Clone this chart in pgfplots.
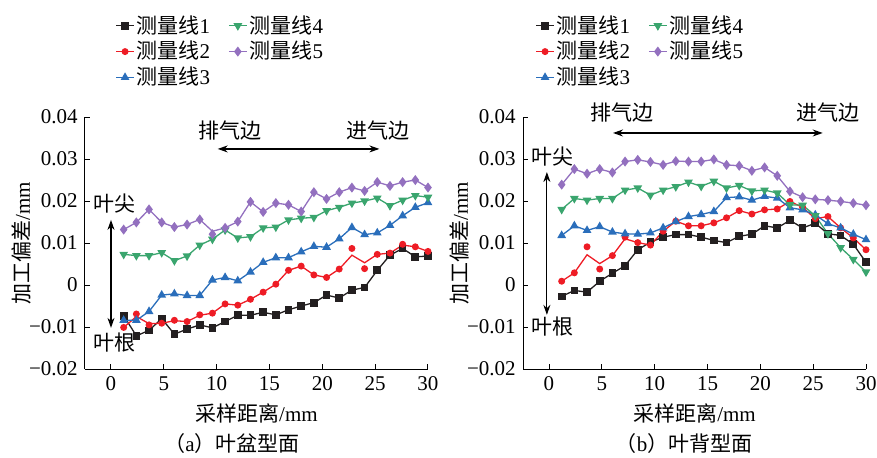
\documentclass[border=0pt]{standalone}
\usepackage{pgfplots}
\pgfplotsset{compat=1.18}
\usepackage{pgfplotstable}
\usepackage{fontspec}
\setmainfont{Liberation Serif}
\newfontfamily\cjk{Noto Sans CJK SC}
\usetikzlibrary{arrows.meta}
\definecolor{c1}{HTML}{231F20}
\definecolor{c2}{HTML}{EE1C25}
\definecolor{c3}{HTML}{2A6EBB}
\definecolor{c4}{HTML}{3AA56E}
\definecolor{c5}{HTML}{9370BF}

\pgfplotstableread{
x s1 s2 s2l s3 s4 s5 s5l
1.2 -0.0073 -0.0101 -0.0101 -0.0084 0.0073 0.0132 0.0132
2.4 -0.0121 -0.0069 -0.0075 -0.0084 0.0070 0.0149 0.0149
3.6 -0.0108 -0.0095 -0.0092 -0.0063 0.0070 0.0180 0.0180
4.8 -0.0080 -0.0091 -0.0091 -0.0024 0.0077 0.0149 0.0149
6.0 -0.0117 -0.0084 -0.0085 -0.0021 0.0058 0.0138 0.0138
7.2 -0.0105 -0.0087 -0.0087 -0.0025 0.0069 0.0144 0.0144
8.4 -0.0095 -0.0071 -0.0072 -0.0025 0.0095 0.0156 0.0156
9.6 -0.0102 -0.0067 -0.0067 0.0012 0.0109 0.0121 0.0128
10.8 -0.0087 -0.0045 -0.0045 0.0018 0.0131 0.0136 0.0136
12.0 -0.0072 -0.0048 -0.0048 0.0010 0.0112 0.0151 0.0151
13.2 -0.0072 -0.0034 -0.0034 0.0031 0.0115 0.0198 0.0198
14.4 -0.0065 -0.0017 -0.0017 0.0054 0.0136 0.0174 0.0174
15.6 -0.0071 0.0002 0.0002 0.0065 0.0138 0.0195 0.0195
16.8 -0.0059 0.0035 0.0035 0.0065 0.0155 0.0191 0.0191
18.0 -0.0050 0.0045 0.0045 0.0079 0.0159 0.0175 0.0175
19.2 -0.0042 0.0024 0.0024 0.0092 0.0161 0.0221 0.0221
20.4 -0.0024 0.0018 0.0018 0.0090 0.0177 0.0205 0.0205
21.6 -0.0031 0.0038 0.0038 0.0110 0.0185 0.0221 0.0221
22.8 -0.0012 0.0087 0.0071 0.0137 0.0195 0.0232 0.0232
24.0 -0.0006 0.0039 0.0053 0.0120 0.0200 0.0224 0.0224
25.2 0.0035 0.0073 0.0073 0.0124 0.0207 0.0245 0.0245
26.4 0.0071 0.0076 0.0076 0.0142 0.0189 0.0236 0.0236
27.6 0.0087 0.0097 0.0095 0.0165 0.0202 0.0245 0.0245
28.8 0.0067 0.0091 0.0091 0.0185 0.0213 0.0250 0.0250
30.0 0.0069 0.0080 0.0080 0.0196 0.0209 0.0232 0.0232
}\tabL

\pgfplotstableread{
x s1 s2 s2l s3 s4 s5
1.2 -0.0027 0.0009 0.0009 0.0118 0.0180 0.0239
2.4 -0.0013 0.0029 0.0029 0.0141 0.0206 0.0276
3.6 -0.0017 0.0091 0.0072 0.0130 0.0202 0.0265
4.8 0.0009 0.0038 0.0051 0.0139 0.0206 0.0276
6.0 0.0028 0.0070 0.0070 0.0126 0.0206 0.0268
7.2 0.0046 0.0114 0.0110 0.0122 0.0226 0.0294
8.4 0.0084 0.0101 0.0101 0.0121 0.0231 0.0298
9.6 0.0102 0.0095 0.0095 0.0124 0.0214 0.0293
10.8 0.0114 0.0128 0.0128 0.0136 0.0226 0.0286
12.0 0.0120 0.0152 0.0152 0.0151 0.0234 0.0295
13.2 0.0120 0.0141 0.0141 0.0163 0.0245 0.0294
14.4 0.0114 0.0141 0.0141 0.0168 0.0235 0.0294
15.6 0.0106 0.0148 0.0148 0.0175 0.0247 0.0299
16.8 0.0101 0.0160 0.0160 0.0208 0.0231 0.0286
18.0 0.0116 0.0177 0.0177 0.0210 0.0237 0.0284
19.2 0.0121 0.0169 0.0169 0.0202 0.0224 0.0272
20.4 0.0141 0.0179 0.0179 0.0211 0.0226 0.0280
21.6 0.0136 0.0181 0.0181 0.0207 0.0219 0.0260
22.8 0.0154 0.0199 0.0199 0.0184 0.0191 0.0223
24.0 0.0136 0.0185 0.0185 0.0179 0.0190 0.0209
25.2 0.0147 0.0158 0.0158 0.0167 0.0165 0.0204
26.4 0.0122 0.0163 0.0163 0.0146 0.0122 0.0202
27.6 0.0118 0.0136 0.0136 0.0136 0.0089 0.0199
28.8 0.0097 0.0112 0.0112 0.0121 0.0061 0.0195
30.0 0.0054 0.0084 0.0084 0.0108 0.0031 0.0190
}\tabR

\pgfplotsset{
  s1/.style={color=c1, line width=0.65pt, mark=square*, mark size=1.6pt},
  s2/.style={color=c2, line width=0.65pt, mark=*, mark size=1.4pt},
  s3/.style={color=c3, line width=0.65pt, mark=triangle*, mark size=1.9pt},
  s4/.style={color=c4, line width=0.65pt, mark=triangle*, mark size=1.9pt, mark options={rotate=180}},
  s5/.style={color=c5, line width=0.65pt, mark=diamond*, mark size=2pt},
  myaxis/.style={
    scale only axis, width=171.5pt, height=126pt,
    xmin=-2.46, xmax=30, ymin=-0.02, ymax=0.04,
    axis x line*=bottom, axis y line*=left,
    scaled y ticks=false, scaled x ticks=false,
    xtick={0,5,10,15,20,25,30}, xticklabels={0,5,10,15,20,25,30},
    ytick={-0.02,-0.01,0,0.01,0.02,0.03,0.04},
    yticklabels={−0.02,−0.01,0,0.01,0.02,0.03,0.04},
    tick align=inside, major tick length=2.5pt,
    axis line style={line width=0.5pt, black},
    every tick/.style={black, line width=0.5pt},
    clip=false,
    xlabel={{\cjk 采样距离}/mm},
    ylabel={{\cjk 加工偏差}/mm},
    xlabel style={at={(axis description cs:0.5,-0.175)}, anchor=center},
    ylabel style={at={(axis description cs:-0.184,0.5)}, anchor=center},
    legend columns=2, legend cell align=left,
    legend image code/.code={\draw[mark repeat=2,mark phase=2] plot coordinates {(0pt,0pt) (4.5pt,0pt) (9pt,0pt)};},
    legend style={draw=none, fill=none, inner sep=0pt, row sep=0.5pt,
      /tikz/every even column/.append style={column sep=8pt},
      nodes={inner sep=1pt}, anchor=north west},
  }
}

\begin{document}
\fontsize{10.5pt}{12.6pt}\selectfont
\begin{tikzpicture}
\useasboundingbox (-42.5pt,-44pt) rectangle (396pt,184.5pt);
% left
\begin{axis}[myaxis, at={(0pt,0pt)}, legend style={at={(axis description cs:0.0875,1.413)}}]
\addlegendimage{s1}\addlegendentry{{\cjk 测量线}1}
\addlegendimage{s4}\addlegendentry{{\cjk 测量线}4}
\addlegendimage{s2}\addlegendentry{{\cjk 测量线}2}
\addlegendimage{s5}\addlegendentry{{\cjk 测量线}5}
\addlegendimage{s3}\addlegendentry{{\cjk 测量线}3}
\addplot[s1, forget plot] table[x=x,y=s1]{\tabL};
\addplot[s2, mark=none, forget plot] table[x=x,y=s2l]{\tabL};
\addplot[s2, only marks, forget plot] table[x=x,y=s2]{\tabL};
\addplot[s3, forget plot] table[x=x,y=s3]{\tabL};
\addplot[s4, forget plot] table[x=x,y=s4]{\tabL};
\addplot[s5, mark=none, forget plot] table[x=x,y=s5l]{\tabL};
\addplot[s5, only marks, forget plot] table[x=x,y=s5]{\tabL};
\draw[{Stealth[length=5pt,width=3.5pt]}-{Stealth[length=5pt,width=3.5pt]}, line width=0.6pt] (axis cs:0,0.0155) -- (axis cs:0,-0.0102);
\node at (axis cs:0.3,0.0195) {\cjk 叶尖};
\node at (axis cs:0.3,-0.0138) {\cjk 叶根};
\draw[{Stealth[length=5pt,width=3.5pt]}-{Stealth[length=5pt,width=3.5pt]}, line width=0.6pt] (axis cs:10.1,0.0324) -- (axis cs:25.4,0.0324);
\node at (axis cs:11.3,0.0369) {\cjk 排气边};
\node at (axis cs:25.3,0.0369) {\cjk 进气边};
\end{axis}
% right
\begin{axis}[myaxis, at={(219pt,0pt)}, legend style={at={(axis description cs:0.035,1.413)}}]
\addlegendimage{s1}\addlegendentry{{\cjk 测量线}1}
\addlegendimage{s4}\addlegendentry{{\cjk 测量线}4}
\addlegendimage{s2}\addlegendentry{{\cjk 测量线}2}
\addlegendimage{s5}\addlegendentry{{\cjk 测量线}5}
\addlegendimage{s3}\addlegendentry{{\cjk 测量线}3}
\addplot[s1, forget plot] table[x=x,y=s1]{\tabR};
\addplot[s2, mark=none, forget plot] table[x=x,y=s2l]{\tabR};
\addplot[s2, only marks, forget plot] table[x=x,y=s2]{\tabR};
\addplot[s3, forget plot] table[x=x,y=s3]{\tabR};
\addplot[s4, forget plot] table[x=x,y=s4]{\tabR};
\addplot[s5, forget plot] table[x=x,y=s5]{\tabR};
\draw[{Stealth[length=5pt,width=3.5pt]}-{Stealth[length=5pt,width=3.5pt]}, line width=0.6pt] (axis cs:-0.2,0.0269) -- (axis cs:-0.2,-0.0071);
\node at (axis cs:0.3,0.0305) {\cjk 叶尖};
\node at (axis cs:0.3,-0.0100) {\cjk 叶根};
\draw[{Stealth[length=5pt,width=3.5pt]}-{Stealth[length=5pt,width=3.5pt]}, line width=0.6pt] (axis cs:6.06,0.0362) -- (axis cs:25.9,0.0362);
\node at (axis cs:6.9,0.041) {\cjk 排气边};
\node at (axis cs:26.4,0.041) {\cjk 进气边};
\end{axis}
\node at (73.5pt,-37.5pt) {{\cjk （}a{\cjk ）叶盆型面}};
\node at (299.5pt,-37.5pt) {{\cjk （}b{\cjk ）叶背型面}};
\end{tikzpicture}
\end{document}
